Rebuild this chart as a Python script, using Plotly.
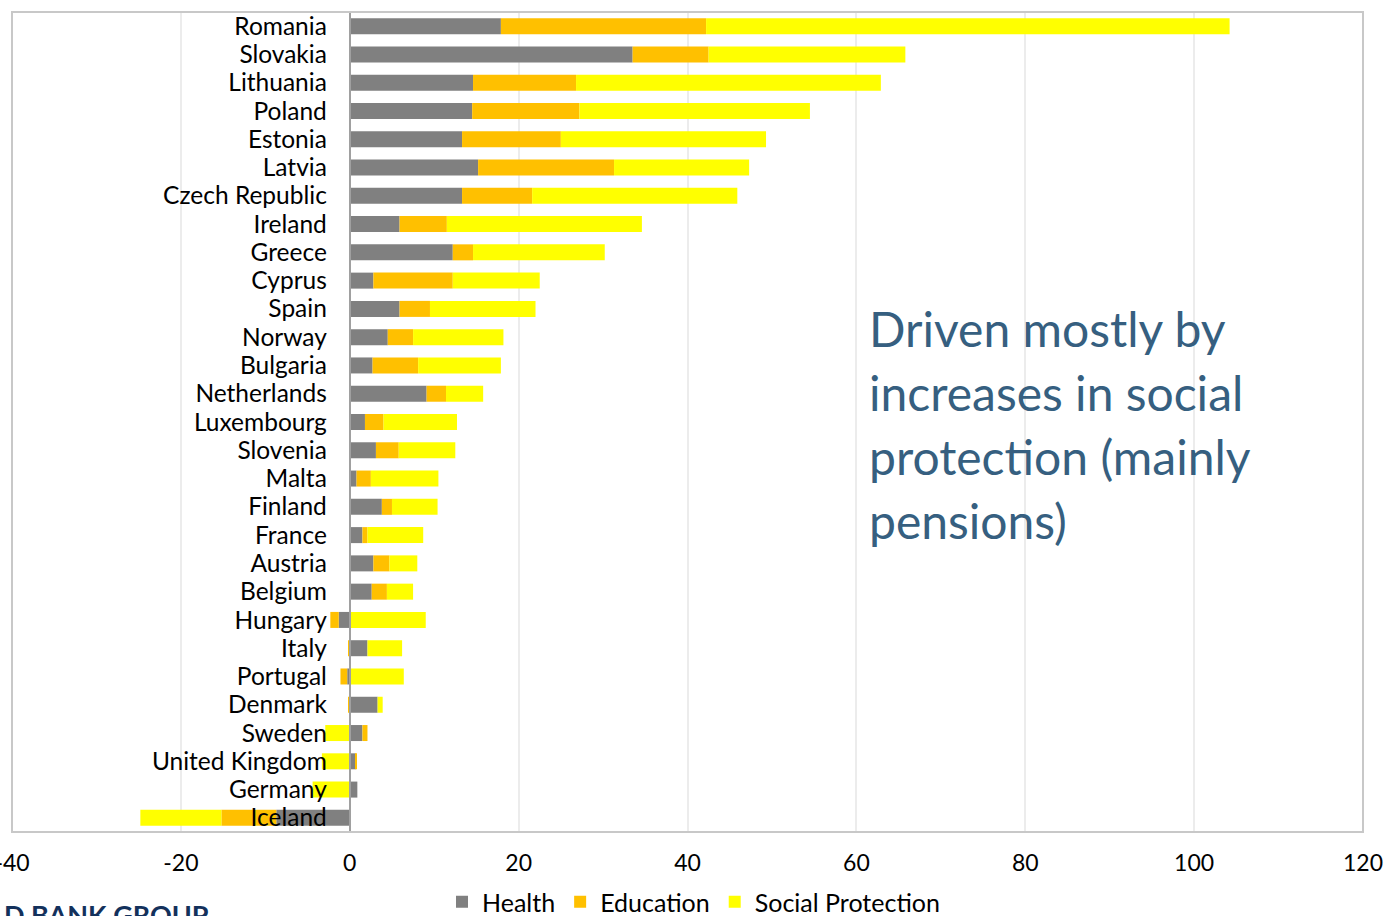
import plotly.graph_objects as go

# Change in spending by function, per country (percent)
countries = [
    "Romania", "Slovakia", "Lithuania", "Poland", "Estonia", "Latvia",
    "Czech Republic", "Ireland", "Greece", "Cyprus", "Spain", "Norway",
    "Bulgaria", "Netherlands", "Luxembourg", "Slovenia", "Malta", "Finland",
    "France", "Austria", "Belgium", "Hungary", "Italy", "Portugal",
    "Denmark", "Sweden", "United Kingdom", "Germany", "Iceland",
]
health = [
    17.9, 33.5, 14.6, 14.5, 13.3, 15.2,
    13.3, 5.9, 12.2, 2.8, 5.9, 4.5,
    2.7, 9.1, 1.8, 3.1, 0.8, 3.8,
    1.5, 2.8, 2.6, -1.3, 2.1, -0.3,
    3.3, 1.5, 0.7, 0.9, -8.7,
]
education = [
    24.3, 9.0, 12.2, 12.7, 11.7, 16.1,
    8.3, 5.6, 2.4, 9.4, 3.6, 3.0,
    5.4, 2.3, 2.2, 2.7, 1.7, 1.2,
    0.6, 1.9, 1.8, -1.0, -0.2, -0.8,
    -0.1, 0.6, 0.1, 0.0, -6.5,
]
social_protection = [
    62.0, 23.3, 36.1, 27.3, 24.3, 16.0,
    24.3, 23.1, 15.6, 10.3, 12.5, 10.7,
    9.8, 4.4, 8.7, 6.7, 8.0, 5.4,
    6.6, 3.3, 3.1, 9.0, 4.1, 6.4,
    0.6, -2.9, -3.3, -4.4, -9.6,
]
x_ticks = [-40, -20, 0, 20, 40, 60, 80, 100, 120]
x_tick_labels = ["-40", "-20", "0", "20", "40", "60", "80", "100", "120"]

LABEL_FONT = "Lato"
W, H = 1387, 916
ML, MR, MT, MB = 12, 24, 12, 84
PW, PH = W - ML - MR, H - MT - MB


def px_x(px):
    return (px - ML) / PW


def px_y(py):
    return (H - MB - py) / PH


fig = go.Figure()
for name, vals, color in [
    ("Health", health, "#808080"),
    ("Education", education, "#FFC000"),
    ("Social Protection", social_protection, "#FFFF00"),
]:
    fig.add_trace(go.Bar(
        y=countries, x=vals, name=name, orientation="h",
        marker=dict(color=color, line=dict(width=0)),
    ))

fig.update_layout(
    width=W, height=H,
    margin=dict(l=ML, r=MR, t=MT, b=MB, autoexpand=False),
    paper_bgcolor="white", plot_bgcolor="white",
    barmode="relative", bargap=0.434,
    font=dict(family=LABEL_FONT, size=22, color="black"),
    showlegend=True,
    legend=dict(
        orientation="h", xref="container", x=0.5, xanchor="center",
        yref="container", y=(H - 902) / H, yanchor="middle",
        font=dict(size=25), itemwidth=30, traceorder="normal",
    ),
    xaxis=dict(
        range=[-40, 120], tickvals=x_ticks, ticktext=x_tick_labels,
        domain=[0, 1],
        showgrid=True, gridcolor="#ececec", gridwidth=2,
        zeroline=False, showline=False, automargin=False,
        ticklabelstandoff=15, ticklabeloverflow="allow",
        tickfont=dict(size=23),
    ),
    yaxis=dict(
        categoryorder="array", categoryarray=countries, autorange="reversed",
        tickmode="array", tickvals=countries,
        anchor="free", position=0.25,
        showline=True, linecolor="#a0a0a0", linewidth=2,
        showgrid=False, zeroline=False, automargin=False,
        ticks="", ticklabelstandoff=17, ticklabeloverflow="allow",
        tickfont=dict(size=24.5),
    ),
    shapes=[dict(
        type="rect", xref="paper", yref="paper", x0=0, x1=1, y0=0, y1=1,
        line=dict(color="#c8c8c8", width=2), fillcolor="rgba(0,0,0,0)",
        layer="above",
    )],
)

note_lines = ["Driven mostly by", "increases in social",
              "protection (mainly", "pensions)"]
for i, line in enumerate(note_lines):
    fig.add_annotation(
        text=line, xref="paper", yref="paper",
        x=px_x(867), xanchor="left",
        y=px_y(328 + 64 * i), yanchor="middle",
        showarrow=False, align="left",
        font=dict(family=LABEL_FONT, size=48, color="#365f80"),
    )

fig.add_annotation(
    text="<b>D BANK GROUP</b>", xref="paper", yref="paper",
    x=px_x(2), xanchor="left",
    y=px_y(896), yanchor="top",
    showarrow=False, font=dict(family=LABEL_FONT, size=27, color="#13315c"),
)

fig.write_html("out.html")
